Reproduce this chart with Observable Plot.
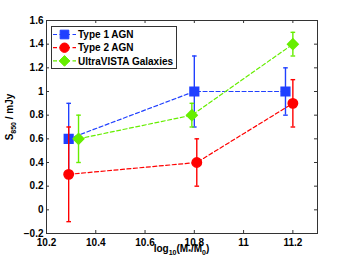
<!DOCTYPE html>
<html><head><meta charset="utf-8">
<script src="https://cdn.jsdelivr.net/npm/d3@7"></script>
<script src="https://cdn.jsdelivr.net/npm/@observablehq/plot@0.6"></script>
<style>body{margin:0;background:#fff}</style>
</head><body><div id="chart"></div>
<script>
const seriesNames = ["Type 1 AGN", "Type 2 AGN", "UltraVISTA Galaxies"];
const t1X = [10.29, 10.80, 11.17], t1Y = [0.6, 1.0, 1.0], t1E = [0.3, 0.3, 0.2];
const t2X = [10.29, 10.81, 11.20], t2Y = [0.3, 0.4, 0.9], t2E = [0.4, 0.2, 0.2];
const uvX = [10.33, 10.79, 11.20], uvY = [0.6, 0.8, 1.4], uvE = [0.2, 0.1, 0.1];
const xTicks = [10.2, 10.4, 10.6, 10.8, 11, 11.2];
const yTicks = [-0.2, 0, 0.2, 0.4, 0.6, 0.8, 1, 1.2, 1.4, 1.6];
const colors = ["#2040ff", "#ff0000", "#66ee00"];
const symbols = ["square", "circle", "diamond2"];
const radii = [4.9, 4.7, 4.8];

function build(name, xs, ys, es) {
  return xs.map((x, i) => ({series: name, x, y: ys[i], lo: ys[i] - es[i], hi: ys[i] + es[i]}));
}
const data = [build(seriesNames[0], t1X, t1Y, t1E), build(seriesNames[1], t2X, t2Y, t2E), build(seriesNames[2], uvX, uvY, uvE)];

const cap = {draw(ctx) { ctx.moveTo(-2.3, 0); ctx.lineTo(2.3, 0); }};
const FONT = "Liberation Sans, Arial, Helvetica, sans-serif";
const W = 350, H = 263, ML = 46, MT = 20, MR = 33, MB = 30;
const fmt = d => (+d.toFixed(1)).toString().replace("-", "\u2212");
const d3sym = {square: d3.symbolSquare, circle: d3.symbolCircle, diamond2: d3.symbolDiamond2};

const seriesMarks = data.flatMap((rows, i) => [
  Plot.ruleX(rows, {x: "x", y1: "lo", y2: "hi", stroke: colors[i], strokeWidth: 1.4}),
  Plot.dot(rows, {x: "x", y: "lo", symbol: cap, stroke: colors[i], strokeWidth: 1.4, fill: "none"}),
  Plot.dot(rows, {x: "x", y: "hi", symbol: cap, stroke: colors[i], strokeWidth: 1.4, fill: "none"}),
  Plot.line(rows, {x: "x", y: "y", stroke: colors[i], strokeWidth: 1.2, strokeDasharray: "4,2.5"}),
  Plot.dot(rows, {x: "x", y: "y", symbol: symbols[i], r: radii[i], fill: colors[i], stroke: colors[i]})
]);

function legendMark() {
  const g = d3.create("svg:g").attr("font-family", FONT).attr("font-weight", "bold").attr("font-size", 10).attr("text-anchor", "start");
  g.append("rect").attr("x", 51.5).attr("y", 26.5).attr("width", 125).attr("height", 42)
    .attr("fill", "white").attr("stroke", "#333").attr("stroke-width", 1);
  seriesNames.forEach((n, i) => {
    const y = 34.5 + i * 13.2;
    g.append("line").attr("x1", 53).attr("x2", 76).attr("y1", y).attr("y2", y)
      .attr("stroke", colors[i]).attr("stroke-width", 1.2).attr("stroke-dasharray", "4,2.5");
    g.append("path").attr("transform", `translate(64.5,${y})`)
      .attr("d", d3.symbol(d3sym[symbols[i]], Math.PI * radii[i] * radii[i])())
      .attr("fill", colors[i]).attr("stroke", colors[i]);
    g.append("text").attr("x", 78).attr("y", y).attr("dy", "0.36em").attr("fill", "#000").text(n);
  });
  return g.node();
}

function labelsMark() {
  const g = d3.create("svg:g").attr("font-family", FONT).attr("font-weight", "bold").attr("font-size", 10).attr("fill", "#000");
  const xl = g.append("text").attr("x", ML + (W - ML - MR) / 2).attr("y", 252).attr("text-anchor", "middle");
  xl.append("tspan").text("log");
  xl.append("tspan").attr("font-size", 7).attr("dy", 3).text("10");
  xl.append("tspan").attr("dy", -3).text("(M");
  xl.append("tspan").attr("font-size", 7).attr("dy", 2).text("*");
  xl.append("tspan").attr("dy", -2).text("/M");
  xl.append("tspan").attr("font-size", 7).attr("dy", 3).text("0");
  xl.append("tspan").attr("dy", -3).text(")");
  const yl = g.append("text").attr("transform", "translate(13,117) rotate(-90)").attr("text-anchor", "middle");
  yl.append("tspan").text("S");
  yl.append("tspan").attr("font-size", 7).attr("dy", 3).text("850");
  yl.append("tspan").attr("dy", -3).text(" / mJy");
  return g.node();
}

const chart = Plot.plot({
  width: W, height: H,
  marginLeft: ML, marginTop: MT, marginRight: MR, marginBottom: MB,
  style: {fontFamily: FONT, fontSize: "10px", fontWeight: "bold", color: "#000", background: "#fff", overflow: "visible"},
  x: {domain: [10.2, 11.3]},
  y: {domain: [-0.2, 1.6]},
  marks: [
    Plot.frame({stroke: "#333", strokeWidth: 1}),
    Plot.gridX(xTicks, {stroke: "#333", strokeOpacity: 1, insetTop: H - MT - MB - 3}),
    Plot.gridX(xTicks, {stroke: "#333", strokeOpacity: 1, insetBottom: H - MT - MB - 3}),
    Plot.gridY(yTicks, {stroke: "#333", strokeOpacity: 1, insetRight: W - ML - MR - 3}),
    Plot.gridY(yTicks, {stroke: "#333", strokeOpacity: 1, insetLeft: W - ML - MR - 3}),
    Plot.axisX({ticks: xTicks, tickSize: 0, tickPadding: 5, tickFormat: fmt, label: null}),
    Plot.axisY({ticks: yTicks, tickSize: 0, tickPadding: 3, tickFormat: fmt, label: null}),
    ...seriesMarks,
    legendMark,
    labelsMark
  ]
});
document.getElementById("chart").appendChild(chart);
</script>
</body></html>
